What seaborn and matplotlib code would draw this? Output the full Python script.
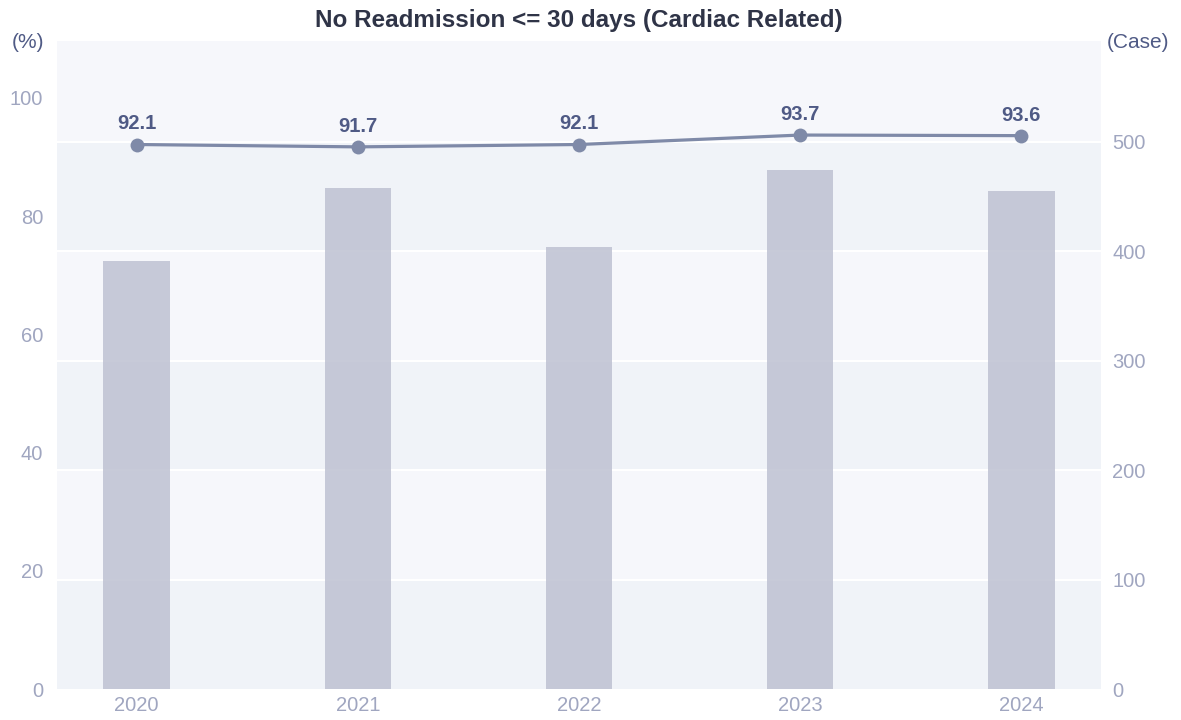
"""
No Readmission <= 30 days (Cardiac Related) - bars (cases) + line (%)
"""

import pandas as pd
import seaborn as sns
import matplotlib.pyplot as plt

sns.set_theme(style="white")
plt.rcParams['font.family'] = ['Liberation Sans', 'DejaVu Sans']

# Podaci
years = ['2020', '2021', '2022', '2023', '2024']
cases = [391, 458, 404, 474, 455]
rate_pct = [92.1, 91.7, 92.1, 93.7, 93.6]

df = pd.DataFrame({'Year': years, 'Cases': cases, 'Rate': rate_pct})

tick_color = '#a0a6c0'
label_color = '#4f5a85'
line_color = '#7f8aa8'

fig = plt.figure(figsize=(11.81, 7.2), dpi=100)
ax = fig.add_axes([0.0483, 0.043, 0.884, 0.9])

# Pozadinske trake po desnoj osi
band_edges = [0, 100, 200, 300, 400, 500, 592]
for i in range(len(band_edges) - 1):
    ax.axhspan(band_edges[i], band_edges[i + 1],
               color='#f0f3f8' if i % 2 == 0 else '#f6f7fb', lw=0, zorder=0)
for y in band_edges[1:-1]:
    ax.axhline(y, color='white', lw=1.5, zorder=1)

# Stubici - broj slucajeva (desna osa)
sns.barplot(data=df, x='Year', y='Cases', color='#bec1d2', alpha=0.85,
            width=0.3, saturation=1, linewidth=0, ax=ax, zorder=2)
ax.set_ylim(0, 592)
ax.set_xlim(-0.36, 4.36)
ax.set_xlabel('')
ax.set_ylabel('')
for s in ax.spines.values():
    s.set_visible(False)

# Linija - procenat (leva osa)
ax2 = ax.twinx()
ax.yaxis.tick_right()
ax.set_yticks([0, 100, 200, 300, 400, 500])
ax.tick_params(axis='x', colors=tick_color, labelsize=14.5, length=0, pad=5)
ax.tick_params(axis='y', colors=tick_color, labelsize=14.5, length=0, pad=8,
               labelright=True, labelleft=False)

ax2.yaxis.tick_left()
sns.lineplot(data=df, x='Year', y='Rate', color=line_color, lw=2.3,
             marker='o', markersize=10, markeredgewidth=0, ax=ax2)
ax2.set_ylim(0, 109.6)
ax2.set_yticks([0, 20, 40, 60, 80, 100])
ax2.set_xlabel('')
ax2.set_ylabel('')
ax2.tick_params(axis='y', colors=tick_color, labelsize=14.5, length=0, pad=10,
                labelleft=True, labelright=False)
for s in ax2.spines.values():
    s.set_visible(False)

for i, v in enumerate(rate_pct):
    ax2.annotate(f'{v:.1f}', (i, v), xytext=(0, 8), textcoords='offset points',
                 ha='center', va='bottom', fontsize=14.5, fontweight='bold',
                 color=label_color)

fig.text(0.49, 0.972, 'No Readmission <= 30 days (Cardiac Related)',
         ha='center', va='center', fontsize=17.5, fontweight='bold', color='#2f3447')
fig.text(0.0237, 0.941, '(%)', ha='center', va='center', fontsize=15, color=label_color)
fig.text(0.964, 0.941, '(Case)', ha='center', va='center', fontsize=15, color=label_color)

plt.savefig('out.png', dpi=100)
